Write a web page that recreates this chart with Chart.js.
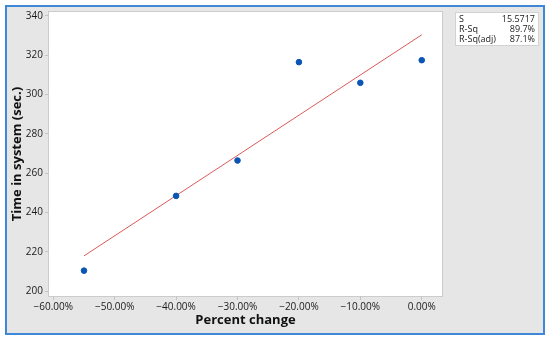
<!DOCTYPE html>
<html>
<head>
<meta charset="utf-8">
<script src="https://cdn.jsdelivr.net/npm/chart.js@4/dist/chart.umd.min.js"></script>
<style>
  body { margin: 0; background: #ffffff; }
  #wrap { width: 550px; height: 341px; }
</style>
</head>
<body>
<div id="wrap"><canvas id="fit-chart" width="550" height="341"></canvas></div>
<script>
// observed points
let pctChange = [-55, -40, -30, -20, -10, 0];
let timeInSystem = [210.5, 248.5, 266.5, 316.5, 306, 317.5];

// fitted line ends
let fitX = [-55, 0];
let fitY = [218, 330.4];

let xTickVals = [-60, -50, -40, -30, -20, -10, 0];
let yTickVals = [200, 220, 240, 260, 280, 300, 320, 340];

let statLabels = ['S', 'R-Sq', 'R-Sq(adj)'];
let statValues = ['15.5717', '89.7%', '87.1%'];

const TICK_FONT = { family: 'Open Sans', size: 10 };

function fmtPct(v) {
    let s = Math.abs(v).toFixed(2) + '%';
    return v < 0 ? '\u2212' + s : s;
}

const frame = {
    id: 'frame',
    beforeDraw(chart) {
        const ctx = chart.ctx;
        const a = chart.chartArea;
        ctx.save();
        ctx.fillStyle = '#ffffff';
        ctx.fillRect(0, 0, chart.width, chart.height);
        // grey panel with blue edge
        ctx.fillStyle = '#e6e6e6';
        ctx.fillRect(6, 6, 538, 328);
        ctx.strokeStyle = '#3f88d8';
        ctx.lineWidth = 2;
        ctx.strokeRect(6, 6, 538, 328);
        // plot area
        ctx.fillStyle = '#ffffff';
        ctx.fillRect(a.left, a.top, a.right - a.left, a.bottom - a.top);
        ctx.strokeStyle = '#cccccc';
        ctx.lineWidth = 1;
        ctx.strokeRect(a.left - 0.5, a.top - 0.5, a.right - a.left + 1, a.bottom - a.top + 1);
        ctx.restore();
    },
    afterDraw(chart) {
        const ctx = chart.ctx;
        ctx.save();
        // stats box
        ctx.fillStyle = '#ffffff';
        ctx.fillRect(455, 12, 84, 34);
        ctx.strokeStyle = '#d2d2d2';
        ctx.lineWidth = 1;
        ctx.strokeRect(455.5, 12.5, 83, 33);
        ctx.font = '9px "Open Sans"';
        ctx.fillStyle = '#1a1a1a';
        ctx.textBaseline = 'middle';
        for (let i = 0; i < statLabels.length; i++) {
            let y = 19 + i * 10.2;
            ctx.textAlign = 'left';
            ctx.fillText(statLabels[i], 459, y);
            ctx.textAlign = 'right';
            ctx.fillText(statValues[i], 535, y);
        }
        ctx.restore();
    }
};

function getConfig() {
    let config = {
        type: 'scatter',
        data: {
            datasets: [
                {
                    label: 'Observed',
                    data: pctChange.map((x, i) => ({ x: x, y: timeInSystem[i] })),
                    backgroundColor: '#0b56b5',
                    borderColor: '#0b56b5',
                    pointRadius: 2.8,
                    pointHoverRadius: 2.8,
                    order: 1
                },
                {
                    label: 'Fit',
                    type: 'line',
                    data: fitX.map((x, i) => ({ x: x, y: fitY[i] })),
                    borderColor: '#dc5a5a',
                    borderWidth: 1,
                    pointRadius: 0,
                    fill: false,
                    tension: 0,
                    order: 2
                }
            ]
        },
        options: {
            responsive: false,
            animation: false,
            layout: { padding: { left: 0, top: 12, right: 108, bottom: 0 } },
            plugins: {
                legend: { display: false },
                tooltip: { enabled: false }
            },
            scales: {
                x: {
                    type: 'linear',
                    min: -60.7,
                    max: 3.3,
                    afterFit: (scale) => { scale.height = 45; },
                    afterBuildTicks: (scale) => { scale.ticks = xTickVals.map(v => ({ value: v })); },
                    border: { display: false },
                    grid: { drawOnChartArea: false, drawTicks: true, tickLength: 4, color: '#c4c4c4' },
                    ticks: {
                        font: TICK_FONT,
                        color: '#1a1a1a',
                        padding: 1,
                        maxRotation: 0,
                        callback: (v) => fmtPct(v)
                    },
                    title: {
                        display: true,
                        text: 'Percent change',
                        font: { family: 'Open Sans', size: 13, weight: 'bold' },
                        color: '#111111',
                        padding: { top: 0, bottom: 13 }
                    }
                },
                y: {
                    min: 197.6,
                    max: 342,
                    afterFit: (scale) => { scale.width = 49; },
                    afterBuildTicks: (scale) => { scale.ticks = yTickVals.map(v => ({ value: v })); },
                    border: { display: false },
                    grid: { drawOnChartArea: false, drawTicks: true, tickLength: 4, color: '#c4c4c4' },
                    ticks: {
                        font: TICK_FONT,
                        color: '#1a1a1a',
                        padding: 2
                    },
                    title: {
                        display: true,
                        text: 'Time in system (sec.)',
                        font: { family: 'Open Sans', size: 13, weight: 'bold' },
                        color: '#111111',
                        padding: { top: 9, bottom: 0 }
                    }
                }
            }
        },
        plugins: [frame]
    };
    return config;
}

let ctx = document.getElementById('fit-chart').getContext('2d');
window.fitChart = new Chart(ctx, getConfig());
</script>
</body>
</html>
